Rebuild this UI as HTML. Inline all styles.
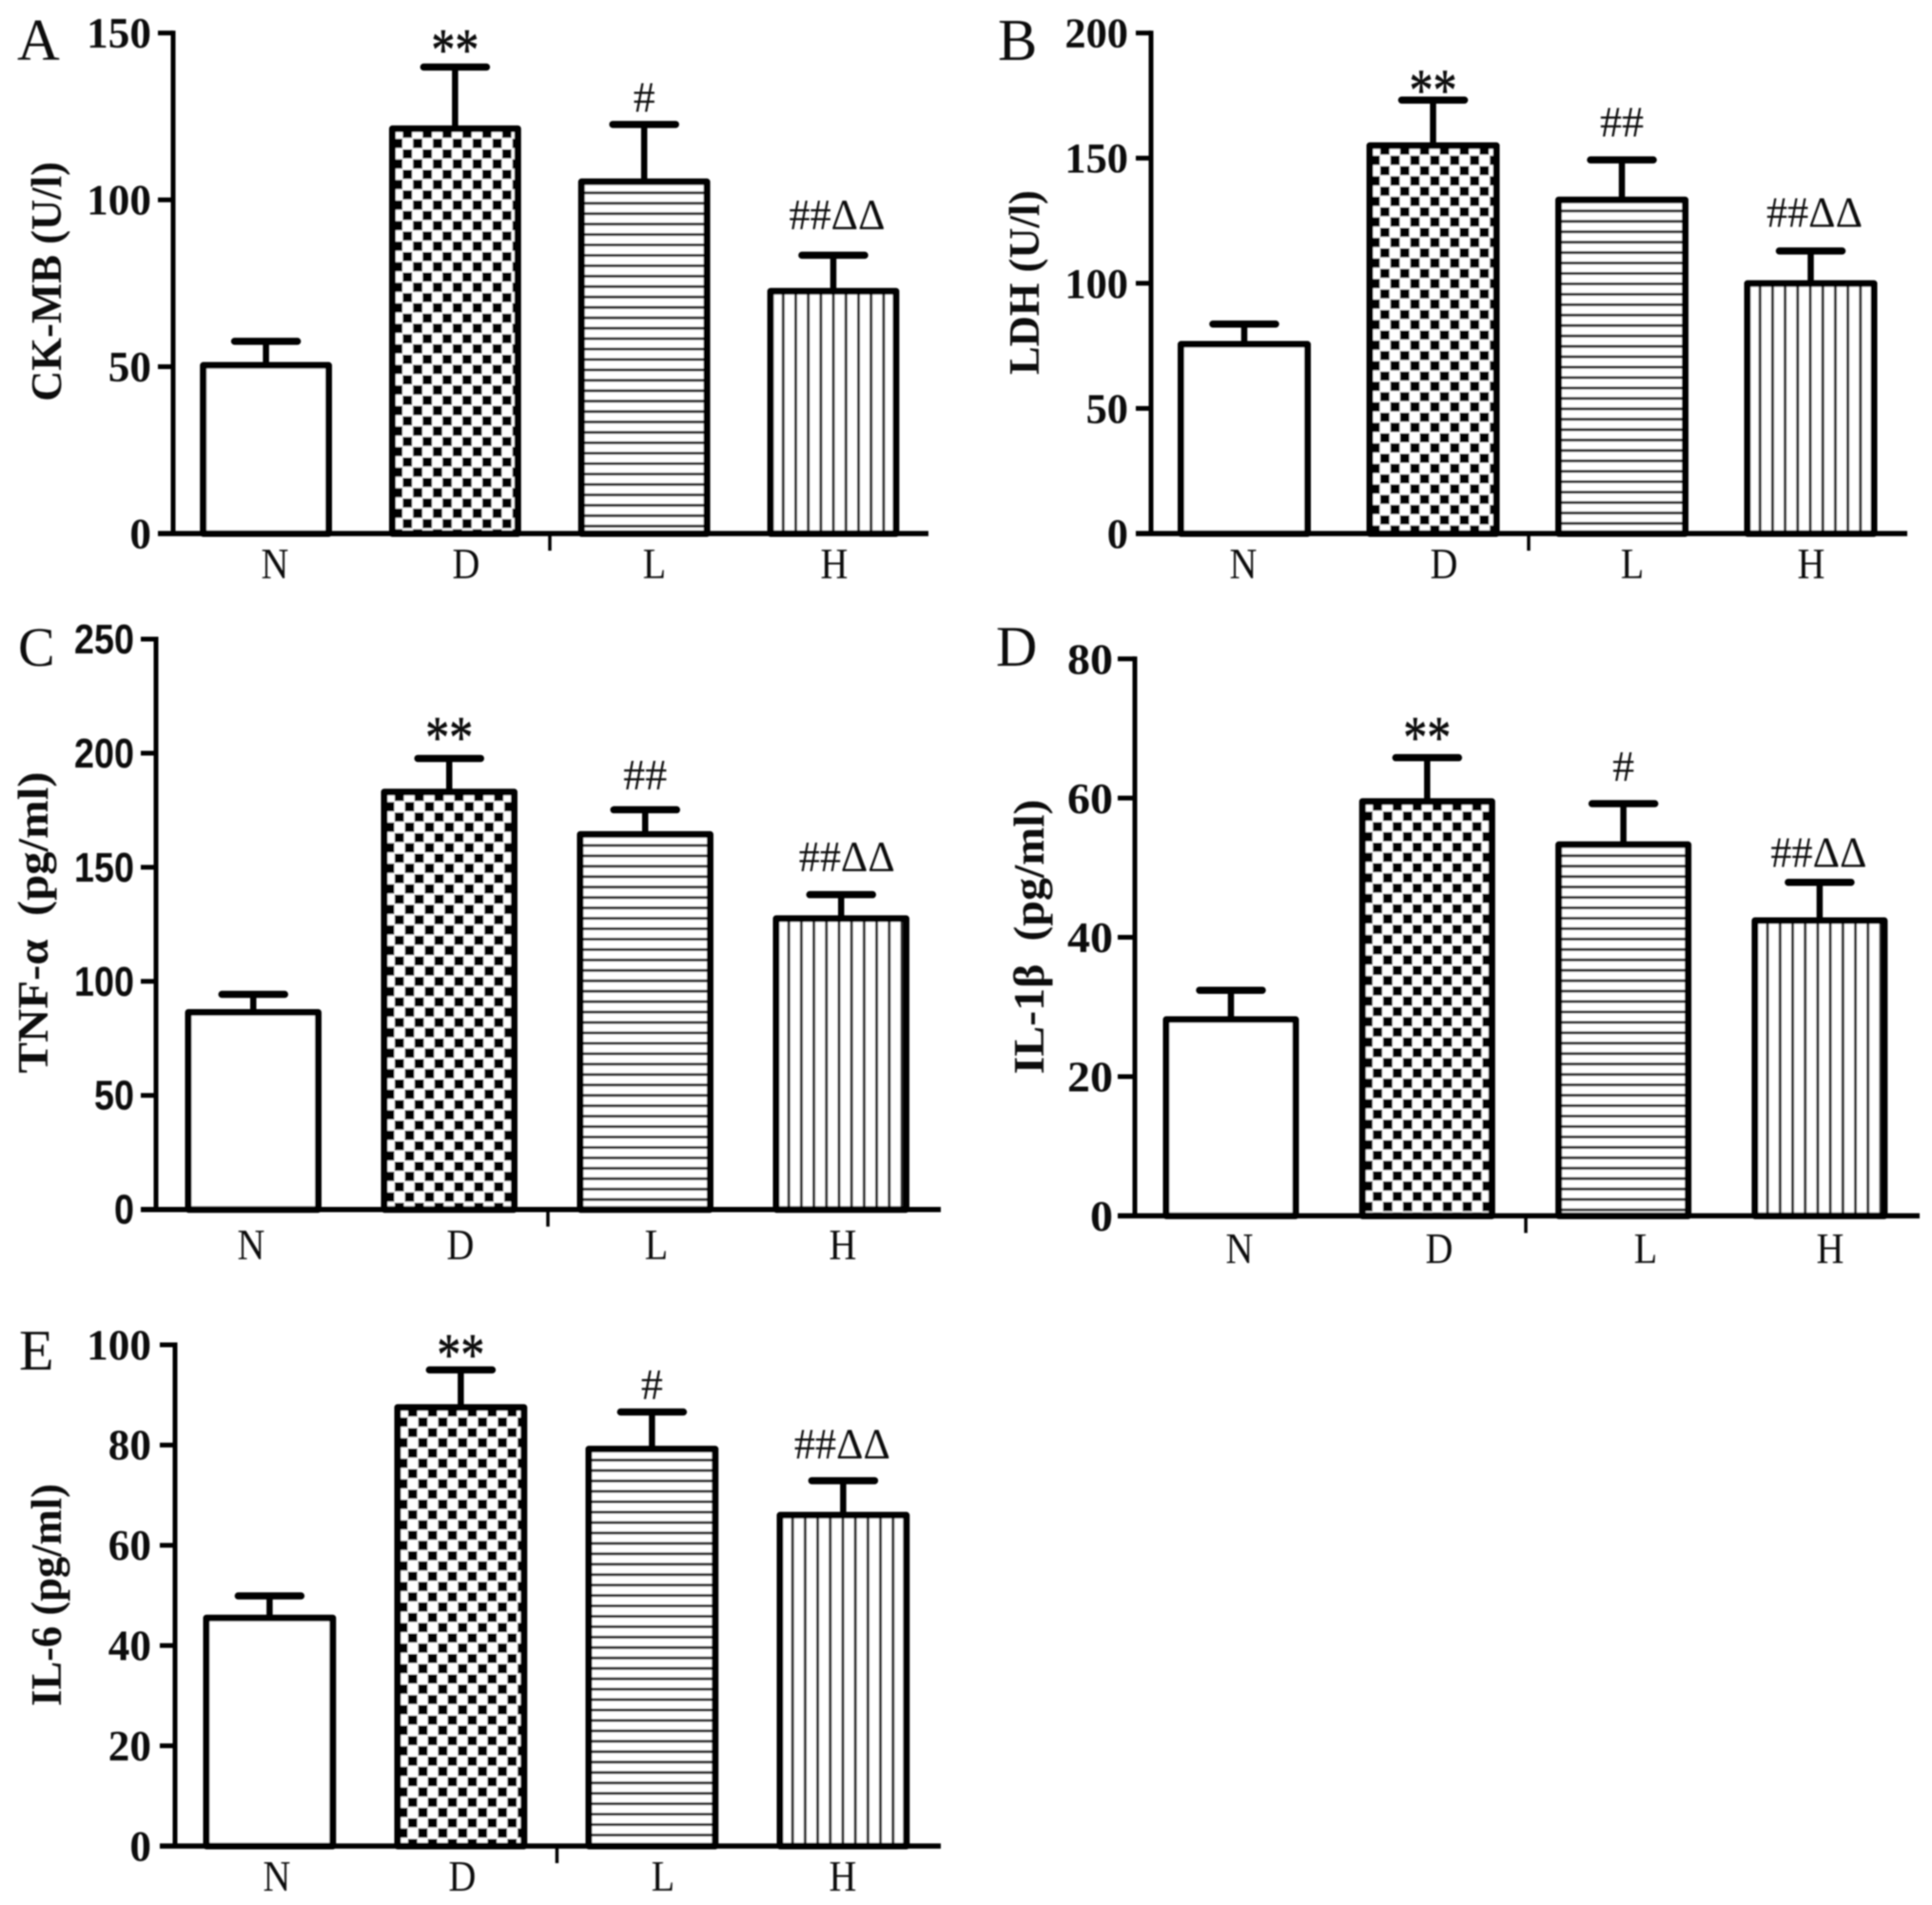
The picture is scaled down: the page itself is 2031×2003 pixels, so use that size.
<!DOCTYPE html>
<html lang="en">
<head>
<meta charset="utf-8">
<title>Serum marker bar charts</title>
<style>
  html, body { margin: 0; padding: 0; background: #fff; }
  svg { display: block; }
  text { font-family: "Liberation Serif", "DejaVu Serif", serif; fill: #111; white-space: pre; }
</style>
</head>
<body>
<svg id="figure" xmlns="http://www.w3.org/2000/svg" width="2031" height="2003" viewBox="0 0 2031 2003">
  <defs id="defs">
    <filter id="soft" filterUnits="userSpaceOnUse" x="0" y="0" width="2031" height="2003">
      <feGaussianBlur stdDeviation="0.8"/>
    </filter>
  </defs>
  <rect x="0" y="0" width="2031" height="2003" fill="#fff"/>
  <g id="root" filter="url(#soft)"></g>
</svg>
<script>
const categories = ['N', 'D', 'L', 'H'];
const fills = ['none', 'checker', 'hlines', 'vlines'];
const annotations = ['', '**', '#', '##\u0394\u0394'];
const annotationsB = ['', '**', '##', '##\u0394\u0394'];

const panelAValues = [50.4, 121.3, 105.4, 72.6];
const panelAErrors = [7.2, 18.5, 17.2, 10.8];
const panelATicks = [0, 50, 100, 150];
const panelALevels = [0, 139.9, 126.4, 91.2];

const panelBValues = [75.6, 155, 133.3, 99.9];
const panelBErrors = [8.1, 18.2, 16, 13];
const panelBTicks = [0, 50, 100, 150, 200];
const panelBLevels = [0, 170.5, 158.6, 122.5];

const panelCValues = [86.4, 183, 164.4, 127.5];
const panelCErrors = [7.9, 14.7, 10.8, 10.5];
const panelCTicks = [0, 50, 100, 150, 200, 250];
const panelCLevels = [0, 199.6, 184.1, 148.3];

const panelDValues = [28.2, 59.5, 53.3, 42.4];
const panelDErrors = [4.2, 6.3, 5.9, 5.5];
const panelDTicks = [0, 20, 40, 60, 80];
const panelDLevels = [0, 66.3, 62.5, 50.1];

const panelEValues = [45.5, 87.5, 79.2, 66];
const panelEErrors = [4.4, 7.5, 7.4, 6.9];
const panelETicks = [0, 20, 40, 60, 80, 100];
const panelELevels = [0, 94.7, 89.2, 77.3];

const serifStack = '"Liberation Serif", "DejaVu Serif", serif';
const sansStack = '"Liberation Sans", "DejaVu Sans", sans-serif';

const panels = [
  { id: 'a', letter: 'A', title: 'CK-MB (U/l)', values: panelAValues, errors: panelAErrors, ticks: panelATicks, levels: panelALevels, notes: annotations,
    axisX: 182, y0: 561, yTop: 34.7, tickLeft: 166, xEnd: 976, sepX: 578,
    barStart: 213.7, barStep: 198.8, barW: 131.8, noteDx: 4,
    tickRight: 159, tickSize: 45, digitW: 22.6, tickFamily: serifStack,
    titleX: 64, titleY: 296, titleLen: 252,
    letterX: 18, letterY: 63, letterSize: 62,
    labelOne: 289, labelTwo: 490, labelThree: 688, labelFour: 877, labelY: 608 },
  { id: 'b', letter: 'B', title: 'LDH (U/l)', values: panelBValues, errors: panelBErrors, ticks: panelBTicks, levels: panelBLevels, notes: annotationsB,
    axisX: 1210, y0: 561, yTop: 34.7, tickLeft: 1194, xEnd: 2005, sepX: 1607,
    barStart: 1241.5, barStep: 198.5, barW: 133, noteDx: 4,
    tickRight: 1186, tickSize: 44, digitW: 22.2, tickFamily: serifStack,
    titleX: 1092, titleY: 297, titleLen: 194,
    letterX: 1049, letterY: 63, letterSize: 62,
    labelOne: 1307, labelTwo: 1518, labelThree: 1716, labelFour: 1904, labelY: 608 },
  { id: 'c', letter: 'C', title: 'TNF-\u03b1  (pg/ml)', values: panelCValues, errors: panelCErrors, ticks: panelCTicks, levels: panelCLevels, notes: annotationsB,
    axisX: 164, y0: 1271.7, yTop: 672, tickLeft: 148, xEnd: 989, sepX: 576,
    barStart: 198, barStep: 206, barW: 136.5, noteDx: 6,
    tickRight: 141, tickSize: 44, digitW: 21, tickFamily: sansStack,
    titleX: 50, titleY: 970, titleLen: 317,
    letterX: 19, letterY: 700, letterSize: 58,
    labelOne: 264, labelTwo: 484, labelThree: 690, labelFour: 886, labelY: 1324 },
  { id: 'd', letter: 'D', title: 'IL-1\u03b2  (pg/ml)', values: panelDValues, errors: panelDErrors, ticks: panelDTicks, levels: panelDLevels, notes: annotations.map(function (n, i) { return i === 3 ? annotationsB[3] : n; }),
    axisX: 1193, y0: 1278.4, yTop: 692.7, tickLeft: 1175, xEnd: 2018, sepX: 1604,
    barStart: 1226, barStep: 206.3, barW: 136, noteDx: -1,
    tickRight: 1170, tickSize: 46, digitW: 24, tickFamily: serifStack,
    titleX: 1097, titleY: 985, titleLen: 289,
    letterX: 1047, letterY: 700, letterSize: 60,
    labelOne: 1303, labelTwo: 1513, labelThree: 1730, labelFour: 1924, labelY: 1328 },
  { id: 'e', letter: 'E', title: 'IL-6 (pg/ml)', values: panelEValues, errors: panelEErrors, ticks: panelETicks, levels: panelELevels, notes: annotations,
    axisX: 184, y0: 1941, yTop: 1414, tickLeft: 168, xEnd: 989, sepX: 585.5,
    barStart: 217, barStep: 201, barW: 132.8, noteDx: -1,
    tickRight: 159, tickSize: 45, digitW: 22.6, tickFamily: serifStack,
    titleX: 64, titleY: 1677, titleLen: 234,
    letterX: 20, letterY: 1440, letterSize: 60,
    labelOne: 291, labelTwo: 486, labelThree: 697, labelFour: 886, labelY: 1988 }
];

const SVGNS = 'http://www.w3.org/2000/svg';
const root = document.getElementById('root');
const defs = document.getElementById('defs');

function mk(tag, parent, attrs) {
  const node = document.createElementNS(SVGNS, tag);
  for (const k in attrs) node.setAttribute(k, attrs[k]);
  parent.appendChild(node);
  return node;
}

function yScale(p, v) {
  const maxTick = p.ticks[p.ticks.length - 1];
  return p.y0 - (v / maxTick) * (p.y0 - p.yTop);
}

function xBand(p, i) {
  return p.barStart + i * p.barStep;
}

function labelPos(p, i) {
  if (i === 0) return p.labelOne;
  if (i === 1) return p.labelTwo;
  if (i === 2) return p.labelThree;
  return p.labelFour;
}

function makePattern(kind, id, left, top) {
  let pat;
  if (kind === 'checker') {
    pat = mk('pattern', defs, { id: id, patternUnits: 'userSpaceOnUse', x: left, y: top, width: 20.9, height: 21.6 });
    
    
    mk('rect', pat, { x: 0, y: 0, width: 20.9, height: 21.6, fill: '#fff' });
    mk('rect', pat, { x: 10.9, y: -0.2, width: 9.7, height: 9.7, fill: '#000' });
    mk('rect', pat, { x: 0.8, y: 10.6, width: 9.7, height: 9.7, fill: '#000' });
  } else if (kind === 'hlines') {
    pat = mk('pattern', defs, { id: id, patternUnits: 'userSpaceOnUse', x: left, y: top + 10.1, width: 20, height: 10.95 });
    
    
    mk('rect', pat, { x: 0, y: 0, width: 20, height: 10.95, fill: '#fff' });
    mk('rect', pat, { x: 0, y: 0, width: 20, height: 3, fill: '#2a2a2a' });
  } else {
    pat = mk('pattern', defs, { id: id, patternUnits: 'userSpaceOnUse', x: left - 1.5, y: top, width: 13.2, height: 20 });
    
    
    mk('rect', pat, { x: 0, y: 0, width: 13.2, height: 20, fill: '#fff' });
    mk('rect', pat, { x: 0, y: 0, width: 3, height: 20, fill: '#2a2a2a' });
  }
}

panels.forEach(function (p) {
  const g = mk('g', root, {});
  
  

  const letter = mk('text', g, { x: p.letterX, y: p.letterY, 'font-size': p.letterSize });
  
  
  letter.textContent = p.letter;

  const title = mk('text', g, {
    transform: 'translate(' + p.titleX + ',' + p.titleY + ') rotate(-90)',
    'font-size': 46, 'font-weight': 'bold', 'text-anchor': 'middle',
    textLength: p.titleLen, lengthAdjust: 'spacingAndGlyphs'
  });
  
  
  title.textContent = p.title;

  p.values.forEach(function (v, i) {
    const left = xBand(p, i);
    const top = yScale(p, v);
    const cap = yScale(p, v + p.errors[i]);
    const cx = left + p.barW / 2;
    const patId = 'fill-' + p.id + '-' + i;
    if (fills[i] !== 'none') makePattern(fills[i], patId, left, top);

    const stem = mk('line', g, { x1: cx, x2: cx, y1: top, y2: cap, stroke: '#000', 'stroke-width': 6.5 });
    
    

    const capLine = mk('line', g, { x1: cx - 33, x2: cx + 33, y1: cap, y2: cap, stroke: '#000', 'stroke-width': 7.5, 'stroke-linecap': 'round' });
    
    

    const bar = mk('rect', g, {
      x: left, y: top, width: p.barW, height: p.y0 - top,
      fill: fills[i] === 'none' ? '#fff' : 'url(#' + patId + ')',
      stroke: '#000', 'stroke-width': 7, 'stroke-linejoin': 'round'
    });
    
    

    const note = p.notes[i];
    if (note) {
      const isStar = note === '**';
      const isLong = note.length > 2;
      const noteEl = mk('text', g, {
        x: cx + (isLong ? p.noteDx : 0), y: yScale(p, p.levels[i]) + (isStar ? 3 : 0),
        'text-anchor': 'middle', 'font-size': isStar ? 62 : 46
      });
      if (isStar) {
        noteEl.setAttribute('textLength', 50);
        noteEl.setAttribute('lengthAdjust', 'spacingAndGlyphs');
        noteEl.setAttribute('stroke', '#111');
        noteEl.setAttribute('stroke-width', '0.7');
      }
      if (isLong) {
        noteEl.setAttribute('textLength', 101);
        noteEl.setAttribute('lengthAdjust', 'spacingAndGlyphs');
      }
      
      
      noteEl.textContent = note;
    }

    const label = mk('text', g, {
      x: labelPos(p, i), y: p.labelY,
      'text-anchor': 'middle', 'font-size': 46
    });
    
    
    label.textContent = categories[i];
    label.setAttribute('textLength', label.getComputedTextLength() * 0.87);
    label.setAttribute('lengthAdjust', 'spacingAndGlyphs');
  });

  const yAxis = mk('line', g, { x1: p.axisX, x2: p.axisX, y1: p.yTop - 2.5, y2: p.y0, stroke: '#000', 'stroke-width': 5 });
  
  

  const xAxis = mk('line', g, { x1: p.tickLeft, x2: p.xEnd, y1: p.y0, y2: p.y0, stroke: '#000', 'stroke-width': 5.5 });
  
  

  const sep = mk('line', g, { x1: p.sepX, x2: p.sepX, y1: p.y0, y2: p.y0 + 18, stroke: '#000', 'stroke-width': 3.5 });
  
  

  p.ticks.forEach(function (t) {
    const ty = yScale(p, t);
    if (t !== 0) {
      const tick = mk('line', g, { x1: p.tickLeft, x2: p.axisX, y1: ty, y2: ty, stroke: '#000', 'stroke-width': 5 });
      
      
    }
    const s = String(t);
    const tl = mk('text', g, {
      x: p.tickRight, y: ty + p.tickSize * 0.34,
      'text-anchor': 'end', 'font-size': p.tickSize, 'font-weight': 'bold',
      textLength: s.length * p.digitW, lengthAdjust: 'spacingAndGlyphs'
    });
    tl.style.fontFamily = p.tickFamily;
    
    
    tl.textContent = s;
  });
});
</script>
</body>
</html>
